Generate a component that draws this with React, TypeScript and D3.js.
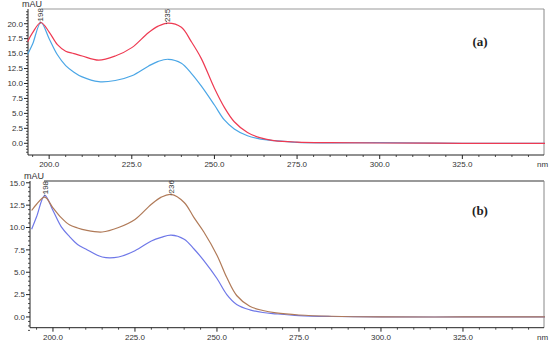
import * as React from 'react';
import * as d3 from 'd3';

// wavelength grid (nm) shared by all traces
const wavelengths = [193.5, 195, 197.5, 200, 202.5, 205, 207.5, 210, 215, 220, 225, 230, 233, 236, 240, 243, 246, 250, 253, 256, 260, 264, 268, 275, 285, 300, 325, 350];

const redA = [17.0, 18.5, 20.2, 18.6, 16.5, 15.4, 15.0, 14.6, 13.9, 14.6, 16.0, 18.5, 19.6, 20.1, 19.4, 17.0, 14.2, 9.2, 6.0, 3.6, 1.8, 0.9, 0.45, 0.2, 0.1, 0.05, 0.0, 0.0];
const blueA = [14.9, 16.6, 20.2, 17.5, 14.8, 13.0, 11.9, 11.1, 10.3, 10.5, 11.3, 12.9, 13.7, 14.05, 13.4, 11.7, 9.6, 6.4, 3.9, 2.4, 1.25, 0.7, 0.45, 0.15, 0.08, 0.1, 0.0, 0.0];
const brownB = [11.9, 12.6, 13.4, 12.2, 11.1, 10.3, 9.95, 9.7, 9.5, 10.0, 10.9, 12.6, 13.4, 13.7, 12.8, 11.1, 9.5, 6.9, 4.4, 2.4, 1.2, 0.72, 0.45, 0.22, 0.08, 0.0, 0.0, 0.0];
const blueB = [9.8, 11.2, 13.6, 11.9, 10.1, 9.0, 8.1, 7.6, 6.7, 6.7, 7.4, 8.5, 8.9, 9.15, 8.7, 7.6, 6.3, 4.3, 2.5, 1.4, 0.8, 0.5, 0.35, 0.15, 0.05, 0.0, 0.0, 0.0];

const xTicks = [200, 225, 250, 275, 300, 325];
const yTicksA = [0, 2.5, 5, 7.5, 10, 12.5, 15, 17.5, 20];
const yTicksB = [0, 2.5, 5, 7.5, 10, 12.5, 15];
const peaksA = [{ nm: 197.3, label: '198', v: 20.2 }, { nm: 235.5, label: '235', v: 20.1 }];
const peaksB = [{ nm: 197.5, label: '198', v: 13.6 }, { nm: 236, label: '236', v: 13.7 }];

const FONT = '"Liberation Sans", Arial, sans-serif';

type Series = { values: number[], color: string };
type PanelProps = {
  xDomain: [number, number];
  xRange: [number, number];
  yDomain: [number, number];
  yRange: [number, number];
  yTicks: number[];
  series: Series[];
  peaks: { nm: number, label: string, v: number }[];
  tag: string;
  tagY: number;
  topWidth: number;
};

function Panel(p: PanelProps) {
  const x = d3.scaleLinear().domain(p.xDomain).range(p.xRange);
  const y = d3.scaleLinear().domain(p.yDomain).range(p.yRange);
  const left = p.xRange[0], right = p.xRange[1];
  const bottom = p.yRange[0], top = p.yRange[1];
  const line = d3.line<number>()
    .x((_, i) => x(wavelengths[i]))
    .y(d => y(d))
    .curve(d3.curveCatmullRom.alpha(0.5));
  const minorX = d3.range(195, 350, 5).filter(v => v % 25 !== 0);
  const minorY = d3.range(-1.5, p.yDomain[1], 0.5).filter(v => Math.abs(v / 2.5 - Math.round(v / 2.5)) > 0.01);

  return (
    <g>
      {/* frame */}
      <line x1={left + 14} x2={right} y1={top} y2={top} stroke="#999" strokeWidth={p.topWidth} />
      <line x1={right} x2={right} y1={top} y2={bottom} stroke="#888" strokeWidth={1} />
      <line x1={left} x2={left} y1={top} y2={bottom} stroke="#222" strokeWidth={1} />
      <line x1={left} x2={right} y1={bottom} y2={bottom} stroke="#222" strokeWidth={1} />
      <text x={left - 6} y={top - 2} fontFamily={FONT} fontSize={9} fill="#333">mAU</text>
      <text x={right - 7} y={bottom + 12} fontFamily={FONT} fontSize={8} fill="#333">nm</text>

      {/* y ticks */}
      {minorY.map(v => (
        <line key={'my' + v} x1={left - 2} x2={left} y1={y(v)} y2={y(v)} stroke="#222" strokeWidth={0.8} />
      ))}
      {p.yTicks.map(v => (
        <g key={'y' + v}>
          <line x1={left - 4} x2={left} y1={y(v)} y2={y(v)} stroke="#222" strokeWidth={1} />
          <text x={left - 5} y={y(v)} dy="0.35em" textAnchor="end" fontFamily={FONT} fontSize={8} fill="#333">{v.toFixed(1)}</text>
        </g>
      ))}

      {/* x ticks */}
      {minorX.map(v => (
        <line key={'mx' + v} x1={x(v)} x2={x(v)} y1={bottom} y2={bottom + 2} stroke="#222" strokeWidth={0.8} />
      ))}
      {xTicks.map(v => (
        <g key={'x' + v}>
          <line x1={x(v)} x2={x(v)} y1={bottom} y2={bottom + 4} stroke="#222" strokeWidth={1} />
          <text x={x(v)} y={bottom + 12} textAnchor="middle" fontFamily={FONT} fontSize={8} fill="#333">{v.toFixed(1)}</text>
        </g>
      ))}

      {/* traces */}
      {p.series.map((s, i) => (
        <path key={'s' + i} d={line(s.values) || ''} fill="none" stroke={s.color} strokeWidth={1.2} />
      ))}

      {/* peak labels */}
      {p.peaks.map(pk => {
        const px = x(pk.nm);
        const base = y(pk.v) - 1;
        return (
          <g key={'pk' + pk.label}>
            <line x1={px} x2={px} y1={base - 1} y2={y(pk.v) + 1} stroke="#444" strokeWidth={0.8} strokeDasharray="1,1" />
            <text transform={`translate(${px + 3},${base}) rotate(-90)`} textAnchor="start" fontFamily={FONT} fontSize={8} fill="#333">{pk.label}</text>
          </g>
        );
      })}

      <text x={480} y={p.tagY} textAnchor="middle" fontFamily='"Liberation Serif", "Times New Roman", serif' fontWeight="bold" fontSize={13} fill="#222">{p.tag}</text>
    </g>
  );
}

export default function App() {
  return (
    <svg width={550} height={344} style={{ position: 'absolute', left: 0, top: 0, background: '#fff' }}>
      <Panel
        xDomain={[193.6, 349.7]} xRange={[28, 544]}
        yDomain={[-1.96, 22.46]} yRange={[155, 9]}
        yTicks={yTicksA}
        series={[{ values: blueA, color: '#4aa6e6' }, { values: redA, color: '#ee3a52' }]}
        peaks={peaksA}
        tag="(a)" tagY={46}
        topWidth={1}
      />
      <Panel
        xDomain={[193, 349.7]} xRange={[30, 544]}
        yDomain={[-1.2, 15.2]} yRange={[327.7, 181]}
        yTicks={yTicksB}
        series={[{ values: blueB, color: '#6f78e8' }, { values: brownB, color: '#b07a58' }]}
        peaks={peaksB}
        tag="(b)" tagY={215}
        topWidth={2}
      />
    </svg>
  );
}
